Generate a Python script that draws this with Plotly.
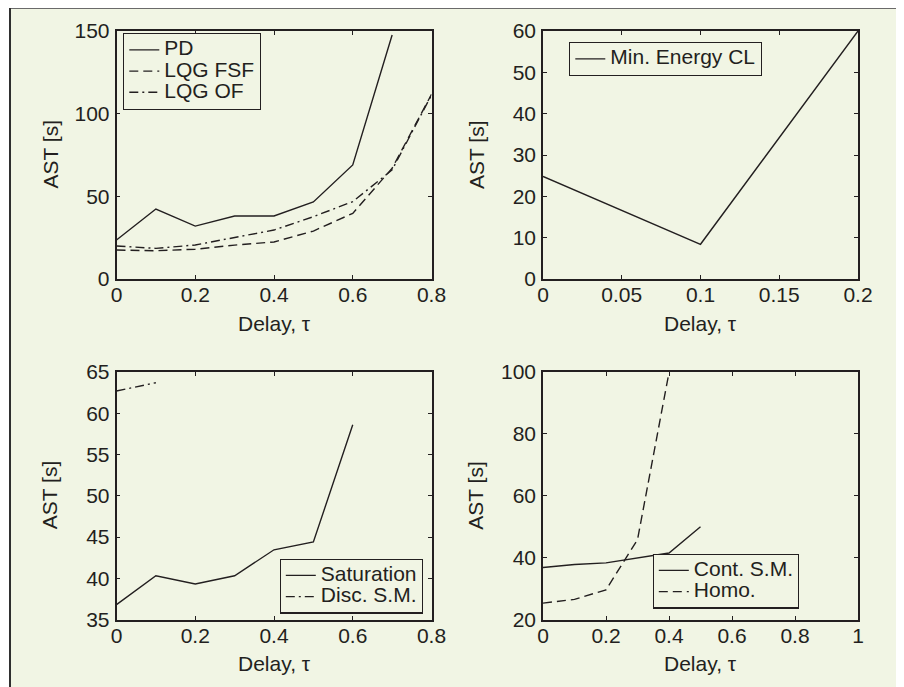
import plotly.graph_objects as go

# ---------------- data ----------------
tau_pd = [0.0, 0.1, 0.2, 0.3, 0.4, 0.5, 0.6, 0.7]
ast_pd = [23.6, 42.3, 32.0, 38.1, 38.1, 46.6, 69.0, 147.6]
tau_lqg = [0.0, 0.1, 0.2, 0.3, 0.4, 0.5, 0.6, 0.7, 0.8]
ast_lqg_fsf = [17.5, 17.1, 18.0, 20.5, 22.4, 29.0, 39.7, 67.0, 111.7]
ast_lqg_of = [20.0, 18.5, 20.6, 25.2, 29.6, 37.7, 46.8, 66.0, 111.3]

tau_me = [0.0, 0.1, 0.2]
ast_me = [24.8, 8.4, 60.0]

tau_sat = [0.0, 0.1, 0.2, 0.3, 0.4, 0.5, 0.6]
ast_sat = [36.8, 40.3, 39.3, 40.3, 43.45, 44.4, 58.6]
tau_dsm = [0.0, 0.1]
ast_dsm = [62.7, 63.7]

tau_csm = [0.0, 0.1, 0.2, 0.3, 0.4, 0.5]
ast_csm = [36.8, 37.8, 38.3, 39.8, 41.5, 50.0]
tau_homo = [0.0, 0.1, 0.2, 0.3, 0.4]
ast_homo = [25.3, 26.5, 29.6, 45.8, 99.8]

# tick labels
x1_ticks = [0, 0.2, 0.4, 0.6, 0.8]
x1_text = ["0", "0.2", "0.4", "0.6", "0.8"]
y1_ticks = [0, 50, 100, 150]
y1_text = ["0", "50", "100", "150"]
x2_ticks = [0, 0.05, 0.1, 0.15, 0.2]
x2_text = ["0", "0.05", "0.1", "0.15", "0.2"]
y2_ticks = [0, 10, 20, 30, 40, 50, 60]
y2_text = ["0", "10", "20", "30", "40", "50", "60"]
x3_ticks = [0, 0.2, 0.4, 0.6, 0.8]
x3_text = ["0", "0.2", "0.4", "0.6", "0.8"]
y3_ticks = [35, 40, 45, 50, 55, 60, 65]
y3_text = ["35", "40", "45", "50", "55", "60", "65"]
x4_ticks = [0, 0.2, 0.4, 0.6, 0.8, 1.0]
x4_text = ["0", "0.2", "0.4", "0.6", "0.8", "1"]
y4_ticks = [20, 40, 60, 80, 100]
y4_text = ["20", "40", "60", "80", "100"]

x_title = "Delay, τ"
y_title = "AST [s]"

# ---------------- style ----------------
OFF = 8                      # page body margin
W, H = 904 - OFF, 687 - OFF  # figure size so the page fills the window
BG = "#f1f5e4"
INK = "#231f20"
FONT = "Liberation Sans, Arial, Helvetica, sans-serif"
FS = 21
LFS = 14          # legend row spacing
LTXT = 21         # legend text size
DASH = "9px,5px"
DASHDOT = "9px,4px,2px,4px"


def fx(p):
    return (p - OFF) / W


def fy(p):
    return 1 - (p - OFF) / H


def lname(s):
    return '<span style="font-size:%dpx">%s</span>' % (LTXT, s)


# screen-pixel boxes of the four plot areas: (left, right, top, bottom)
boxes = [
    (116.5, 431.5, 31, 279),
    (543, 858, 31, 279),
    (116.5, 431.5, 372, 619.5),
    (543, 858, 372, 619.5),
]

fig = go.Figure()

line_w = 1.4
fig.add_trace(go.Scatter(x=tau_pd, y=ast_pd, name=lname("PD"), mode="lines",
                         line=dict(color=INK, width=line_w), xaxis="x", yaxis="y", legend="legend"))
fig.add_trace(go.Scatter(x=tau_lqg, y=ast_lqg_fsf, name=lname("LQG FSF"), mode="lines",
                         line=dict(color=INK, width=line_w, dash=DASH), xaxis="x", yaxis="y", legend="legend"))
fig.add_trace(go.Scatter(x=tau_lqg, y=ast_lqg_of, name=lname("LQG OF"), mode="lines",
                         line=dict(color=INK, width=line_w, dash=DASHDOT), xaxis="x", yaxis="y", legend="legend"))

fig.add_trace(go.Scatter(x=tau_me, y=ast_me, name=lname("Min. Energy CL"), mode="lines",
                         line=dict(color=INK, width=line_w), xaxis="x2", yaxis="y2", legend="legend2"))

fig.add_trace(go.Scatter(x=tau_sat, y=ast_sat, name=lname("Saturation"), mode="lines",
                         line=dict(color=INK, width=line_w), xaxis="x3", yaxis="y3", legend="legend3"))
fig.add_trace(go.Scatter(x=tau_dsm, y=ast_dsm, name=lname("Disc. S.M."), mode="lines",
                         line=dict(color=INK, width=line_w, dash=DASHDOT), xaxis="x3", yaxis="y3", legend="legend3"))

fig.add_trace(go.Scatter(x=tau_csm, y=ast_csm, name=lname("Cont. S.M."), mode="lines",
                         line=dict(color=INK, width=line_w), xaxis="x4", yaxis="y4", legend="legend4"))
fig.add_trace(go.Scatter(x=tau_homo, y=ast_homo, name=lname("Homo."), mode="lines",
                         line=dict(color=INK, width=line_w, dash=DASH), xaxis="x4", yaxis="y4", legend="legend4"))

xspecs = [(x1_ticks, x1_text, [0, 0.8]), (x2_ticks, x2_text, [0, 0.2]),
          (x3_ticks, x3_text, [0, 0.8]), (x4_ticks, x4_text, [0, 1.0])]
yspecs = [(y1_ticks, y1_text, [0, 150]), (y2_ticks, y2_text, [0, 60]),
          (y3_ticks, y3_text, [35, 65]), (y4_ticks, y4_text, [20, 100])]

common = dict(showline=True, linecolor=INK, linewidth=1.6, mirror="ticks",
              ticks="inside", ticklen=4, tickwidth=1, tickcolor=INK,
              showgrid=False, zeroline=False, tickfont=dict(family=FONT, size=FS, color=INK),
              fixedrange=True)

layout_axes = {}
annotations = []
for i, ((l, r, t, b), (xt, xtt, xr), (yt, ytt, yr)) in enumerate(zip(boxes, xspecs, yspecs)):
    n = "" if i == 0 else str(i + 1)
    layout_axes["xaxis" + n] = dict(domain=[fx(l), fx(r)], range=xr, tickvals=xt, ticktext=xtt,
                                    anchor="y" + n, ticklabelstandoff=-4, **common)
    layout_axes["yaxis" + n] = dict(domain=[fy(b), fy(t)], range=yr, tickvals=yt, ticktext=ytt,
                                    anchor="x" + n, ticklabelstandoff=1, **common)
    annotations.append(dict(text=x_title, x=fx((l + r) / 2), y=fy(b + 44), xref="paper", yref="paper",
                            showarrow=False, xanchor="center", yanchor="middle",
                            font=dict(family=FONT, size=FS, color=INK)))
    annotations.append(dict(text=y_title, x=fx(l - 67), y=fy((t + b) / 2), xref="paper", yref="paper",
                            showarrow=False, xanchor="center", yanchor="middle", textangle=-90,
                            font=dict(family=FONT, size=FS, color=INK)))

leg_common = dict(bgcolor=BG, bordercolor=INK, borderwidth=1.3, xanchor="left",
                  font=dict(family=FONT, size=LFS, color=INK), itemwidth=30, tracegroupgap=0)
legends = dict(
    legend=dict(x=fx(123), y=fy(33), yanchor="top", **leg_common),
    legend2=dict(x=fx(569), y=fy(42), yanchor="top", **leg_common),
    legend3=dict(x=fx(279.5), y=fy(613.5), yanchor="bottom", **leg_common),
    legend4=dict(x=fx(652.5), y=fy(608.5), yanchor="bottom", **leg_common),
)

shapes = [
    dict(type="rect", xref="paper", yref="paper", x0=fx(10), x1=1.05, y0=-0.05, y1=fy(7),
         fillcolor=BG, line=dict(width=0), layer="below"),
    dict(type="line", xref="paper", yref="paper", x0=fx(9), x1=1.05, y0=fy(8), y1=fy(8),
         line=dict(color="#6a6a6a", width=2), layer="below"),
    dict(type="line", xref="paper", yref="paper", x0=fx(10), x1=fx(10), y0=-0.05, y1=fy(8),
         line=dict(color="#2f2f2f", width=2), layer="below"),
]

fig.update_layout(
    width=W, height=H,
    margin=dict(l=0, r=0, t=0, b=0, autoexpand=False),
    paper_bgcolor="white", plot_bgcolor=BG,
    font=dict(family=FONT, size=FS, color=INK),
    showlegend=True,
    annotations=annotations,
    shapes=shapes,
    **layout_axes,
    **legends,
)

fig.write_html("out.html")
